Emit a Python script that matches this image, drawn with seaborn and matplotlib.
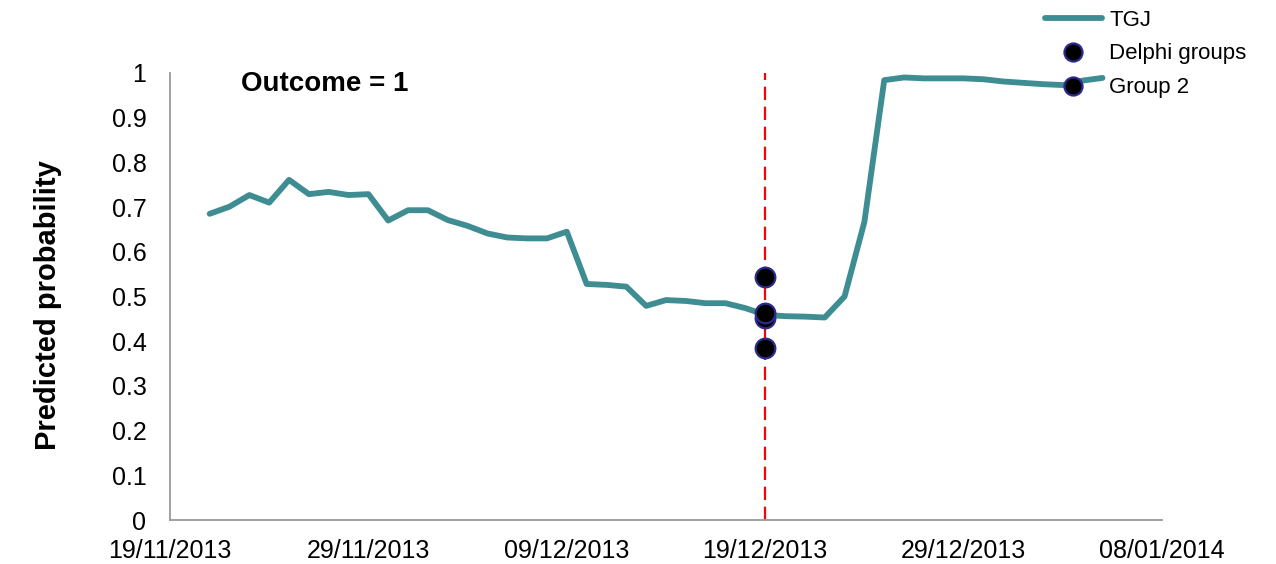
import numpy as np
import pandas as pd
import matplotlib
matplotlib.use("Agg")
import matplotlib.pyplot as plt
import matplotlib.dates as mdates
from matplotlib.lines import Line2D
from matplotlib.ticker import FuncFormatter
import seaborn as sns

# daily predicted probability, 21/11/2013 .. 05/01/2014
start_date = "2013-11-21"
tgj_prob = [
    0.685, 0.701, 0.727, 0.710, 0.761, 0.729, 0.734, 0.727, 0.729, 0.670,
    0.693, 0.693, 0.671, 0.658, 0.641, 0.632, 0.630, 0.630, 0.645, 0.528,
    0.526, 0.522, 0.479, 0.492, 0.490, 0.485, 0.485, 0.474, 0.459, 0.456,
    0.455, 0.453, 0.500, 0.667, 0.984, 0.990, 0.988, 0.988, 0.988, 0.986,
    0.981, 0.978, 0.975, 0.973, 0.983, 0.989,
]

delphi_date = "2013-12-19"
delphi_prob = [0.543, 0.452, 0.385]
group2_prob = [0.463]

xtick_dates = ["2013-11-19", "2013-11-29", "2013-12-09", "2013-12-19",
               "2013-12-29", "2014-01-08"]
ytick_vals = [0, 0.1, 0.2, 0.3, 0.4, 0.5, 0.6, 0.7, 0.8, 0.9, 1]

line_df = pd.DataFrame({
    "date": pd.date_range(start_date, periods=len(tgj_prob), freq="D"),
    "prob": tgj_prob,
})
delphi_df = pd.DataFrame({"date": pd.to_datetime([delphi_date] * len(delphi_prob)),
                          "prob": delphi_prob})
group2_df = pd.DataFrame({"date": pd.to_datetime([delphi_date] * len(group2_prob)),
                          "prob": group2_prob})

sns.set_theme(style="white")
plt.rcParams["font.family"] = ["Liberation Sans", "DejaVu Sans"]

teal = "#3e8d92"
navy = "#2b2b8c"
grey = "#9a9a9a"

fig = plt.figure(figsize=(12.76, 5.64), dpi=100)
ax = fig.add_axes([170 / 1276, 1 - 520 / 564, (1162 - 170) / 1276, (520 - 73) / 564])

ax.axvline(pd.Timestamp(delphi_date), ymin=0, ymax=1, color="#ff0000",
           lw=1.6, dashes=(6, 3), zorder=2)

sns.lineplot(data=line_df, x="date", y="prob", ax=ax, color=teal, lw=4.2,
             zorder=3, legend=False)
for d in (delphi_df, group2_df):
    sns.scatterplot(data=d, x="date", y="prob", ax=ax, color="black", s=200,
                    edgecolor=navy, linewidth=1.6, zorder=4, legend=False)

ax.set_xlim(pd.Timestamp(xtick_dates[0]), pd.Timestamp(xtick_dates[-1]))
ax.set_ylim(0, 1)
ax.set_xticks(pd.to_datetime(xtick_dates))
ax.xaxis.set_major_formatter(mdates.DateFormatter("%d/%m/%Y"))
ax.set_yticks(ytick_vals)
ax.yaxis.set_major_formatter(FuncFormatter(lambda v, p: f"{v:g}"))

for s in ("top", "right"):
    ax.spines[s].set_visible(False)
for s in ("left", "bottom"):
    ax.spines[s].set_color(grey)
    ax.spines[s].set_linewidth(1.3)
ax.tick_params(axis="both", which="major", direction="out", length=6,
               width=1.2, color=grey, labelsize=18, labelcolor="black")
ax.tick_params(axis="x", pad=8)
ax.tick_params(axis="y", pad=11)

ax.set_xlabel("")
ax.set_ylabel("Predicted probability", fontsize=21, fontweight="bold",
              color="black")
ax.yaxis.set_label_coords(-0.109, 0.481)
ax.text(0.072, 1.005, "Outcome = 1", transform=ax.transAxes, fontsize=20,
        fontweight="bold", color="black", va="top", ha="left")

handles = [
    Line2D([], [], color=teal, lw=4.2),
    Line2D([], [], ls="none", marker="o", markersize=13, markerfacecolor="black",
           markeredgecolor=navy, markeredgewidth=1.6),
    Line2D([], [], ls="none", marker="o", markersize=13, markerfacecolor="black",
           markeredgecolor=navy, markeredgewidth=1.6),
]
fig.legend(handles, ["TGJ", "Delphi groups", "Group 2"], loc="upper left",
           bbox_to_anchor=(1039 / 1276, 1 - 4 / 564), frameon=False, fontsize=16,
           labelcolor="black", handlelength=2.6, handletextpad=0.3,
           labelspacing=0.58, borderaxespad=0.0, borderpad=0.25)

fig.savefig("out.png", dpi=100)
